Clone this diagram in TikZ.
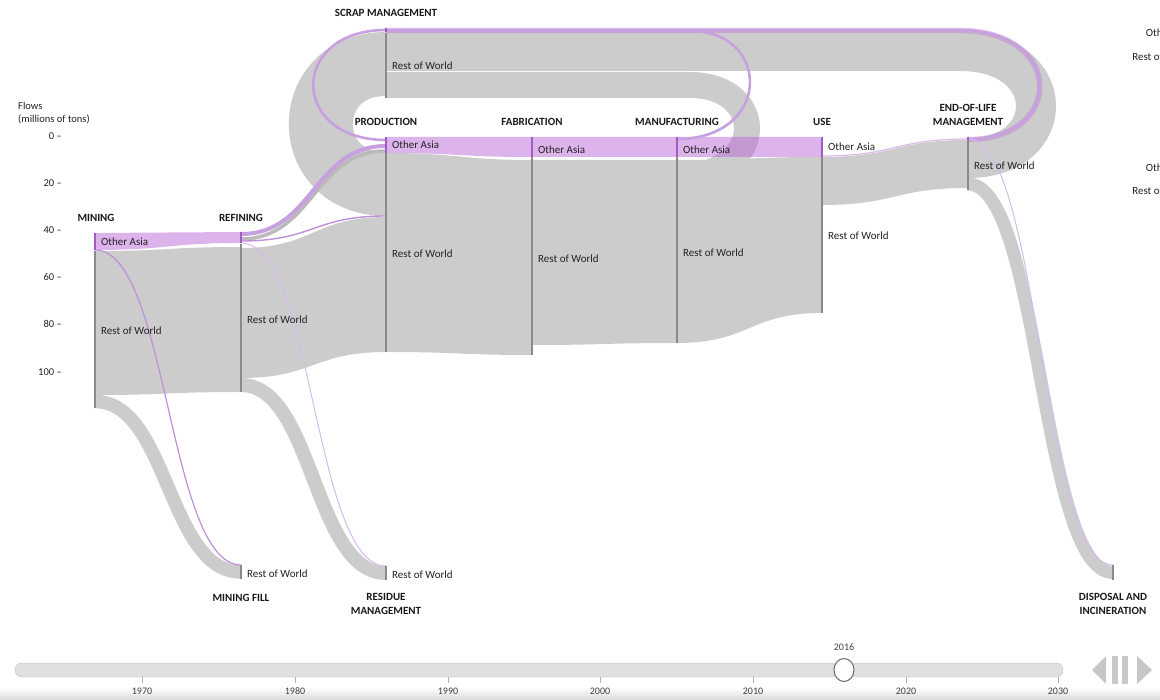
\documentclass[tikz,border=0pt]{standalone}
\usepackage{fontspec}
\setmainfont{Carlito}
\definecolor{flowgrey}{HTML}{CCCCCC}
\definecolor{oafill}{HTML}{B969D7}
\definecolor{oaline}{HTML}{BE8FDA}
\definecolor{oaloop}{HTML}{C7A0DF}
\definecolor{oalight}{HTML}{DAB9EC}
\definecolor{barcol}{HTML}{8A8A8A}
\definecolor{oabarcol}{HTML}{A35BC4}
\definecolor{txt}{HTML}{222222}

% filled band between two horizontal-tangent curves
% #1 style, #2 x0, #3 top0, #4 bottom0, #5 x1, #6 top1, #7 bottom1
\newcommand\flowband[7]{%
  \path[#1] (#2,#3) .. controls ({(#2+#5)/2},#3) and ({(#2+#5)/2},#6) .. (#5,#6)
    -- (#5,#7) .. controls ({(#2+#5)/2},#7) and ({(#2+#5)/2},#4) .. (#2,#4) -- cycle;}
% stroked link of constant width: #1 style, #2 x0, #3 y0, #4 x1, #5 y1
\newcommand\flowlink[5]{%
  \draw[#1] (#2,#3) .. controls ({(#2+#4)/2},#3) and ({(#2+#4)/2},#5) .. (#4,#5);}

\tikzset{
  greyband/.style={fill=flowgrey},
  oaband/.style={fill=oafill, fill opacity=0.5},
  loopband/.style={draw=flowgrey, line cap=butt},
  oastroke/.style={draw=oaline, line cap=butt},
  oaloopline/.style={draw=oaloop, line cap=butt, line width=2.6},
  nodebar/.style={draw=barcol, line width=1.2pt},
  oabar/.style={draw=oabarcol, line width=1.2pt},
  lbl/.style={font=\fontsize{11}{12}\selectfont, text=txt, anchor=west, inner sep=0pt},
  ttl/.style={font=\bfseries\fontsize{11}{13.5}\selectfont, text=black!90, align=center, inner sep=0pt},
  axlbl/.style={font=\fontsize{10.5}{12}\selectfont, text=txt, inner sep=0pt},
  yearlbl/.style={font=\fontsize{10}{11}\selectfont, text=black!75, inner sep=0pt},
}

\begin{document}
\begin{tikzpicture}[x=1pt, y=-1pt]
\useasboundingbox (0,0) rectangle (1160,700);

% ---- recycling loops (drawn first, underneath) ----
\draw[loopband, line width=40] (968,158) .. controls (1060,158) and (1060,51) .. (960,51) -- (386,51);
\draw[loopband, line width=26] (677,177) .. controls (768,177) and (768,85) .. (690,85) -- (386,85);
\draw[loopband, line width=64] (386,64) .. controls (299,64) and (299,184) .. (386,184);

% ---- main grey flows (Rest of World) ----
\flowband{greyband}{95}{251}{395}{241}{247}{392}
\flowband{greyband}{241}{248}{378}{386}{217}{352}
\flowband{greyband}{386}{153}{352}{532}{160}{355}
\flowband{greyband}{532}{160}{345}{677}{160}{343}
\flowband{greyband}{677}{160}{343}{822}{157}{313}
\flowband{greyband}{822}{157}{205}{968}{140}{188}

% losses to the bottom nodes
\flowlink{draw=flowgrey, line width=13.5}{95}{401.5}{241}{572}
\flowlink{draw=flowgrey, line width=14}{241}{385}{386}{573}
\flowlink{draw=flowgrey, line width=13}{968}{184}{1113}{572.5}

% thin grey link from refining into production
\flowlink{draw=black!27, line width=3.5}{241}{239}{386}{151}

% ---- Other Asia flows ----
\flowband{oaband}{95}{233}{250}{241}{232}{243}
\flowband{oaband}{386}{137}{153}{532}{137}{157}
\flowband{oaband}{532}{137}{157}{677}{137}{157}
\flowband{oaband}{677}{137}{157}{822}{137}{157}
\flowlink{draw=oaloop, line width=4}{241}{234}{386}{146}
\flowlink{oastroke, line width=1.4}{241}{241}{386}{216}
\flowlink{draw=oalight, line width=1.2}{822}{156}{968}{139}

% Other Asia scrap loops
\draw[draw=oafill, draw opacity=0.35, line width=5.5, line cap=butt]
  (968,139.5) .. controls (1065,139.5) and (1065,30.5) .. (960,30.5) -- (386,30.5);
\draw[oaloopline] (968,139) .. controls (1065,139) and (1065,30) .. (960,30) -- (386,30);
\draw[oaloopline] (677,139) .. controls (772,139) and (772,31) .. (690,31) -- (386,31);
\draw[oaloopline] (386,30) .. controls (289,30) and (289,140) .. (386,140);

% Other Asia losses
\flowlink{draw=oaline, line width=1.2}{95}{250}{241}{565}
\flowlink{draw=oalight, line width=1}{241}{243}{386}{566}
\flowlink{draw=oalight, line width=1}{968}{139}{1113}{565}

% ---- node bars ----
\draw[oabar] (95,233) -- (95,250);   \draw[nodebar] (95,251) -- (95,408);
\draw[oabar] (241,232) -- (241,243); \draw[nodebar] (241,244) -- (241,392);
\draw[oabar] (386,28) -- (386,32);   \draw[nodebar] (386,33) -- (386,98);
\draw[oabar] (386,137) -- (386,153); \draw[nodebar] (386,153) -- (386,352);
\draw[oabar] (532,137) -- (532,157); \draw[nodebar] (532,157) -- (532,355);
\draw[oabar] (677,137) -- (677,157); \draw[nodebar] (677,157) -- (677,343);
\draw[oabar] (822,137) -- (822,157); \draw[nodebar] (822,157) -- (822,313);
\draw[oabar] (968,137) -- (968,140); \draw[nodebar] (968,140) -- (968,190);
\draw[nodebar] (241,565) -- (241,579);
\draw[nodebar] (386,566) -- (386,580);
\draw[nodebar] (1113,565) -- (1113,580);

% ---- node labels ----
\node[lbl] (minOA)  at (101,242) {Other Asia};
\node[lbl] (minRW)  at (101,331) {Rest of World};
\node[lbl] (refRW)  at (247,320) {Rest of World};
\node[lbl] (scrRW)  at (392,66)  {Rest of World};
\node[lbl] (proOA)  at (392,145) {Other Asia};
\node[lbl] (proRW)  at (392,254) {Rest of World};
\node[lbl] (fabOA)  at (538,150) {Other Asia};
\node[lbl] (fabRW)  at (538,259) {Rest of World};
\node[lbl] (manOA)  at (683,150) {Other Asia};
\node[lbl] (manRW)  at (683,253) {Rest of World};
\node[lbl] (useOA)  at (828,147) {Other Asia};
\node[lbl] (useRW)  at (828,236) {Rest of World};
\node[lbl] (eolRW)  at (974,166) {Rest of World};
\node[lbl] (filRW)  at (247,574) {Rest of World};
\node[lbl] (resRW)  at (392,575) {Rest of World};

% ---- stage titles ----
\node[ttl] (tMin) at (96,218)  {MINING};
\node[ttl] (tRef) at (241,218) {REFINING};
\node[ttl] (tScr) at (386,13)  {SCRAP MANAGEMENT};
\node[ttl] (tPro) at (386,122) {PRODUCTION};
\node[ttl] (tFab) at (532,122) {FABRICATION};
\node[ttl] (tMan) at (677,122) {MANUFACTURING};
\node[ttl] (tUse) at (822,122) {USE};
\node[ttl] (tEol) at (968,115) {END-OF-LIFE\\MANAGEMENT};
\node[ttl] (tFil) at (241,598) {MINING FILL};
\node[ttl] (tRes) at (386,604) {RESIDUE\\MANAGEMENT};
\node[ttl] (tDis) at (1113,604) {DISPOSAL AND\\INCINERATION};

% ---- legend entries running off the right edge ----
\begin{scope}
  \clip (0,0) rectangle (1160,700);
  \node[lbl, anchor=east] (lg1) at (1193,33)  {Other Asia};
  \node[lbl, anchor=east] (lg2) at (1193,57)  {Rest of World};
  \node[lbl, anchor=east] (lg3) at (1193,168) {Other Asia};
  \node[lbl, anchor=east] (lg4) at (1193,191) {Rest of World};
\end{scope}

% ---- vertical axis ----
\node[axlbl, anchor=west] (axT1) at (18,106) {Flows};
\node[axlbl, anchor=west] (axT2) at (18,119) {(millions of tons)};
\foreach \v/\yy in {0/136, 20/183, 40/230, 60/277, 80/324, 100/372}{
  \node[axlbl, anchor=east] (ax\v) at (62,\yy) {\v\ –};
}

% ---- time slider ----
\shade[top color=white, bottom color=black!14] (0,687) rectangle (1160,700);
\draw[draw=black!25, fill=black!12, rounded corners=7] (15,663) rectangle (1063,677);
\foreach \yr/\xx in {1970/142, 1980/295, 1990/448, 2000/600, 2010/753, 2020/906, 2030/1058}{
  \draw[black!30, line width=0.8] (\xx,677) -- (\xx,683);
  \node[yearlbl] (yr\yr) at (\xx,691) {\yr};
}
\draw[black!55, fill=white, line width=1.1] (844,670) ellipse (10 and 11.5);
\node[yearlbl] (cur) at (844,647) {2016};
% play controls
\fill[black!22] (1106,656) -- (1092,670) -- (1106,684) -- cycle;
\fill[black!22] (1112,656) rectangle (1118,684);
\fill[black!22] (1122,656) rectangle (1128,684);
\fill[black!22] (1137,656) -- (1152,670) -- (1137,684) -- cycle;
\end{tikzpicture}
\end{document}
